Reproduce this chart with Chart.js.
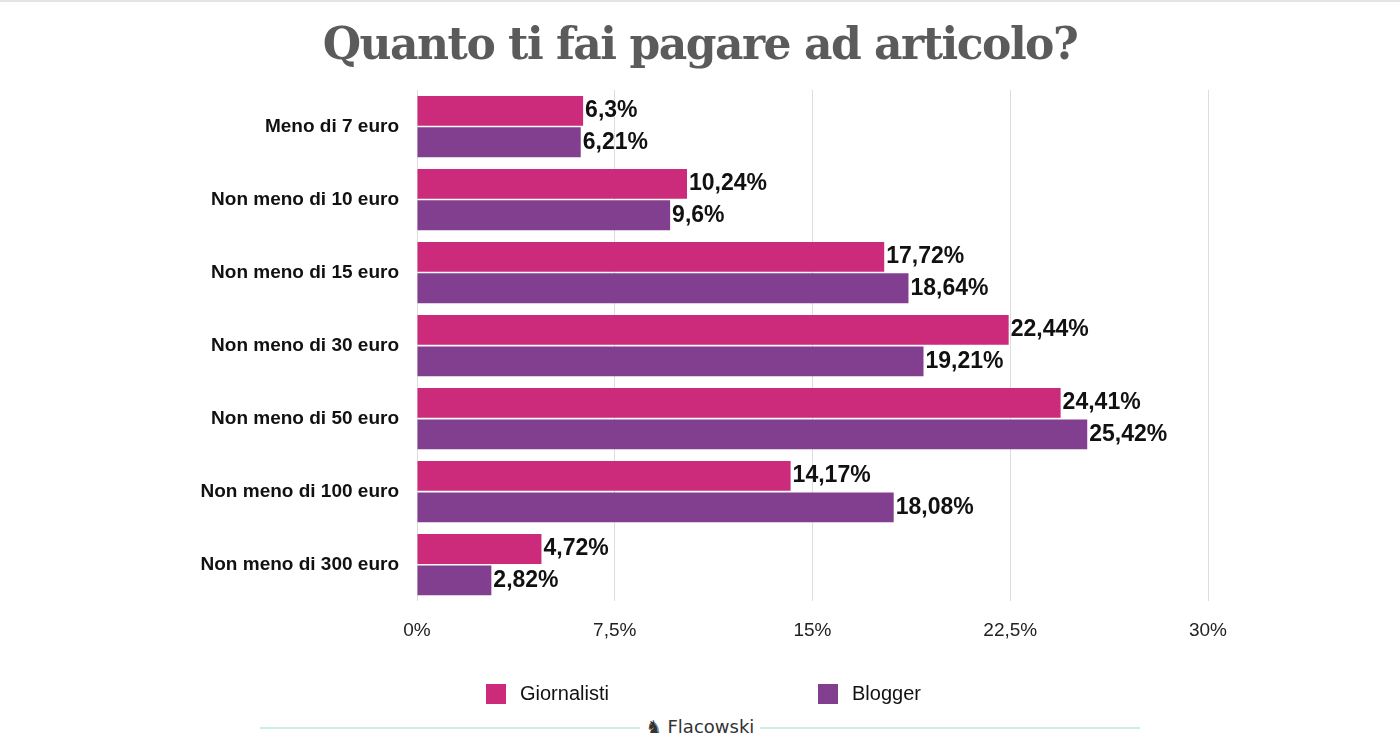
<!DOCTYPE html>
<html>
<head>
<meta charset="utf-8">
<script src="https://cdn.jsdelivr.net/npm/chart.js@4"></script>
<style>
  body { margin: 0; background: #fff; font-family: "Liberation Sans", Arial, sans-serif; }
  #wrap { position: relative; width: 1400px; height: 748px; border-top: 2px solid #e4e4e4; box-sizing: border-box; }
  h1 { position: absolute; top: 16px; left: 0; width: 1400px; margin: 0; text-align: center;
       font-family: "DejaVu Serif", serif; font-weight: bold; font-size: 44px; color: #5b5b5b; letter-spacing: -1.5px; }
  .leg { position: absolute; top: 680px; font-size: 20px; color: #111; display: flex; align-items: center; }
  .leg span { display: inline-block; width: 20px; height: 20px; margin-right: 14px; }
  #foot { position: absolute; top: 725px; left: 260px; width: 880px; height: 2px; background: #cdeee6; }
  #brand { position: absolute; top: 714px; left: 640px; width: 120px; background: #fff; text-align: center;
           font-family: "DejaVu Sans", sans-serif; font-size: 18px; color: #333; }
</style>
</head>
<body>
<div id="wrap">
  <h1>Quanto ti fai pagare ad articolo?</h1>
  <canvas id="c" width="1400" height="746"></canvas>
  <div class="leg" style="left:486px"><span style="background:#cc2a7a"></span>Giornalisti</div>
  <div class="leg" style="left:818px"><span style="background:#823f8f"></span>Blogger</div>
  <div id="foot"></div>
  <div id="brand">♞ Flacowski</div>
</div>
<script>
const categories = ['Meno di 7 euro', 'Non meno di 10 euro', 'Non meno di 15 euro', 'Non meno di 30 euro',
                    'Non meno di 50 euro', 'Non meno di 100 euro', 'Non meno di 300 euro'];
const giornalisti = [6.3, 10.24, 17.72, 22.44, 24.41, 14.17, 4.72];
const blogger = [6.21, 9.6, 18.64, 19.21, 25.42, 18.08, 2.82];
const tickLabels = { 0: '0%', 7.5: '7,5%', 15: '15%', 22.5: '22,5%', 30: '30%' };

const valueLabels = {
    id: 'valueLabels',
    afterDatasetsDraw(chart) {
        const ctx = chart.ctx;
        ctx.save();
        ctx.font = 'bold 23px "Liberation Sans", Arial, sans-serif';
        ctx.fillStyle = '#111';
        ctx.textBaseline = 'middle';
        chart.data.datasets.forEach((ds, i) => {
            chart.getDatasetMeta(i).data.forEach((bar, j) => {
                ctx.fillText(String(ds.data[j]).replace('.', ',') + '%', bar.x + 2, bar.y);
            });
        });
        ctx.restore();
    }
};

new Chart(document.getElementById('c'), {
    type: 'bar',
    data: {
        labels: categories,
        datasets: [
            { label: 'Giornalisti', data: giornalisti, backgroundColor: '#cc2a7a' },
            { label: 'Blogger', data: blogger, backgroundColor: '#823f8f' }
        ]
    },
    options: {
        indexAxis: 'y',
        responsive: false,
        animation: false,
        layout: { padding: { top: 88, right: 192, bottom: 88 } },
        datasets: { bar: { categoryPercentage: 0.86, barPercentage: 0.95 } },
        scales: {
            x: {
                min: 0, max: 30,
                afterBuildTicks: s => { s.ticks = Object.keys(tickLabels).map(v => ({ value: +v })); },
                ticks: { callback: v => tickLabels[v], color: '#222', font: { size: 19, family: '"Liberation Sans", Arial' }, padding: 18 },
                grid: { color: '#dddddd', drawTicks: false },
                border: { display: false }
            },
            y: {
                afterFit: s => { s.width = 417; },
                ticks: { color: '#111', font: { size: 19, weight: 'bold', family: '"Liberation Sans", Arial' }, padding: 10 },
                grid: { display: false },
                border: { display: false }
            }
        },
        plugins: { legend: { display: false }, tooltip: { enabled: false } }
    },
    plugins: [valueLabels]
});
</script>
</body>
</html>
